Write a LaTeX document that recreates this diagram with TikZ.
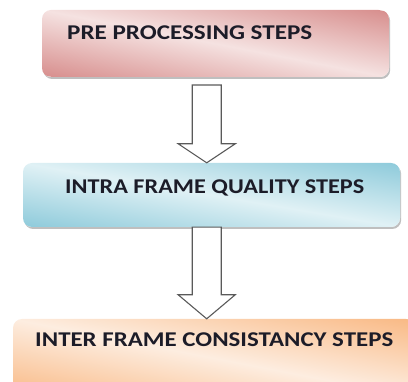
\documentclass[tikz,border=0pt]{standalone}
\usepackage{fontspec}
\setmainfont{Carlito}
\usetikzlibrary{calc,shadows}
\definecolor{pinkD}{HTML}{D8908F}
\definecolor{pinkL}{HTML}{F5E2E1}
\definecolor{blueD}{HTML}{8FCBDB}
\definecolor{blueL}{HTML}{E0F1F5}
\definecolor{orangeD}{HTML}{F9BA86}
\definecolor{orangeL}{HTML}{FDEDE0}
\definecolor{txtc}{HTML}{1C1C28}
\definecolor{arrowc}{HTML}{5A5A5A}
\tikzset{
  stepbox/.style={rectangle, rounded corners=9pt, draw=none, fill=white, inner sep=0pt,
    drop shadow={shadow xshift=1.2pt, shadow yshift=-2pt, opacity=0.25, fill=black}},
  diag shade/.style n args={4}{path picture={
    \begin{scope}[transform canvas={rotate around={#1:(path picture bounding box.center)}}]
      \shade[top color=#3, bottom color=#3, middle color=#4]
        ($(path picture bounding box.center)+(-320,-#2)$) rectangle
        ($(path picture bounding box.center)+(320,#2)$);
    \end{scope}}},
  boxtext/.style={anchor=base west, inner sep=0pt, text=txtc,
    font=\fontsize{21}{24}\selectfont\bfseries},
  blk/.style={draw=arrowc, fill=white, line width=1.1pt, line join=miter}
}
\newcommand\fitw[2]{\resizebox{#1}{\height}{#2}}
\newcommand\hollowarrow[3]{%
  \draw[blk] ($(#1)+(-14.5,0)$) -- ($(#1)+(14.5,0)$) -- ($(#2)+(14.5,-#3)$)
    -- ($(#2)+(28.5,-#3)$) -- (#2) -- ($(#2)+(-28.5,-#3)$)
    -- ($(#2)+(-14.5,-#3)$) -- cycle;}
\begin{document}
\begin{tikzpicture}[x=1pt,y=-1pt]
\useasboundingbox (0,0) rectangle (408,382);
\clip (0,0) rectangle (408,382);
% boxes
\node[stepbox, minimum width=347pt, minimum height=67pt,
  diag shade={-11}{64}{pinkD}{pinkL}]
  (pre) at (215.5,43.5) {};
\node[stepbox, minimum width=377pt, minimum height=64pt,
  diag shade={-9.6}{62}{blueD}{blueL}]
  (intra) at (211.5,195) {};
\node[stepbox, minimum width=417pt, minimum height=81pt,
  diag shade={-11}{75}{orangeD}{orangeL}]
  (inter) at (221.5,359.5) {};
% texts
\node[boxtext] (t1) at (67,40) {\fitw{245pt}{PRE PROCESSING STEPS}};
\node[boxtext] (t2) at (65,194) {\fitw{299pt}{INTRA FRAME QUALITY STEPS}};
\node[boxtext] (t3) at (35,347) {\fitw{358pt}{INTER FRAME CONSISTANCY STEPS}};
% arrows
\coordinate (a1top) at (206.7,85);
\coordinate (a1tip) at (a1top |- intra.north);
\coordinate (a2top) at (a1top |- intra.south);
\coordinate (a2tip) at (a1top |- inter.north);
\hollowarrow{a1top}{a1tip}{19}
\hollowarrow{a2top}{a2tip}{24}
\end{tikzpicture}
\end{document}
